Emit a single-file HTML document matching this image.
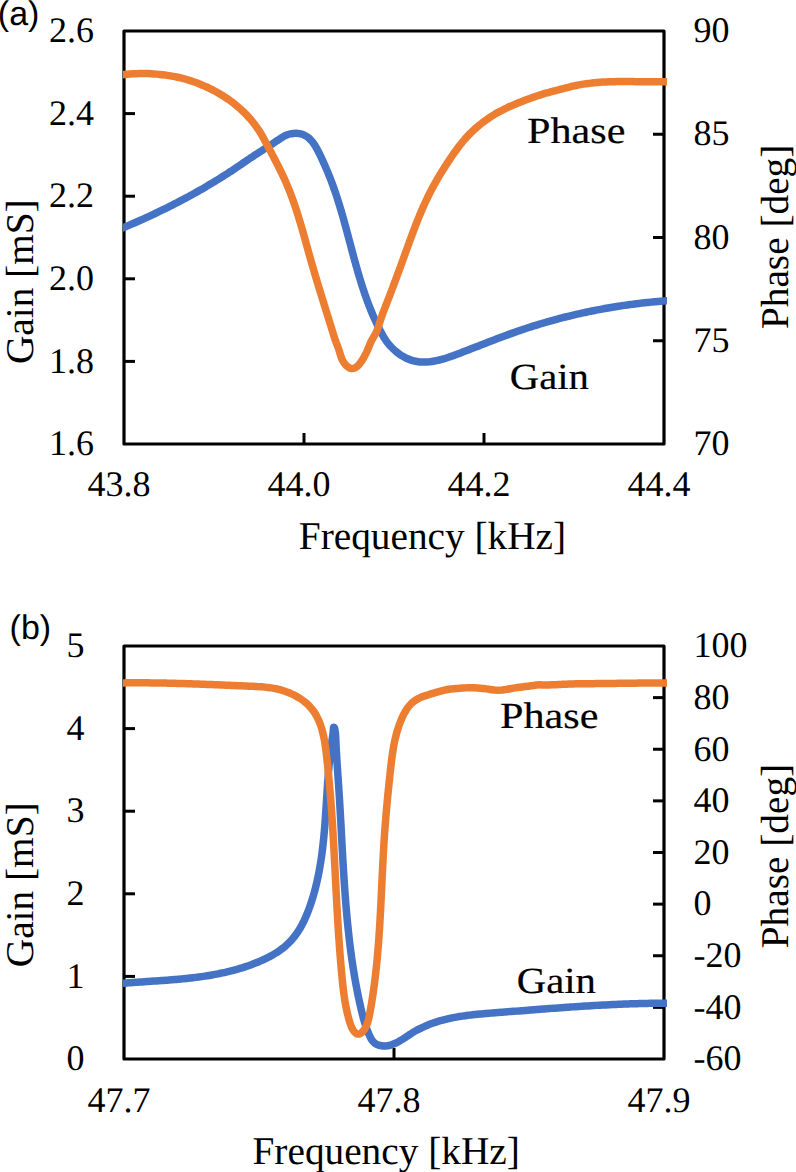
<!DOCTYPE html>
<html><head><meta charset="utf-8"><title>Gain and Phase vs Frequency</title>
<style>html,body{margin:0;padding:0;background:#fff;} body{width:796px;height:1172px;overflow:hidden;position:relative;} svg{position:absolute;left:0;top:0;} text{text-rendering:geometricPrecision;}</style>
</head><body>
<svg width="796" height="1172" viewBox="0 0 796 1172">
<defs><clipPath id="plotclip"><rect x="123" y="0" width="544" height="1172"/></clipPath></defs>
<path d="M124,31 L124,444 L664,444 L664,31 Z" fill="none" stroke="#000" stroke-width="3.2" stroke-linejoin="round"/>
<line x1="124" y1="113.6" x2="135" y2="113.6" stroke="#000" stroke-width="3"/>
<line x1="124" y1="196.2" x2="135" y2="196.2" stroke="#000" stroke-width="3"/>
<line x1="124" y1="278.8" x2="135" y2="278.8" stroke="#000" stroke-width="3"/>
<line x1="124" y1="361.4" x2="135" y2="361.4" stroke="#000" stroke-width="3"/>
<line x1="664" y1="134.25" x2="653" y2="134.25" stroke="#000" stroke-width="3"/>
<line x1="664" y1="237.5" x2="653" y2="237.5" stroke="#000" stroke-width="3"/>
<line x1="664" y1="340.75" x2="653" y2="340.75" stroke="#000" stroke-width="3"/>
<line x1="304" y1="444" x2="304" y2="433" stroke="#000" stroke-width="3"/>
<line x1="484" y1="444" x2="484" y2="433" stroke="#000" stroke-width="3"/>
<path d="M124,646 L124,1059 L664,1059 L664,646 Z" fill="none" stroke="#000" stroke-width="3.2" stroke-linejoin="round"/>
<line x1="124" y1="728.6" x2="135" y2="728.6" stroke="#000" stroke-width="3"/>
<line x1="124" y1="811.2" x2="135" y2="811.2" stroke="#000" stroke-width="3"/>
<line x1="124" y1="893.8" x2="135" y2="893.8" stroke="#000" stroke-width="3"/>
<line x1="124" y1="976.4" x2="135" y2="976.4" stroke="#000" stroke-width="3"/>
<line x1="664" y1="697.625" x2="653" y2="697.625" stroke="#000" stroke-width="3"/>
<line x1="664" y1="749.25" x2="653" y2="749.25" stroke="#000" stroke-width="3"/>
<line x1="664" y1="800.875" x2="653" y2="800.875" stroke="#000" stroke-width="3"/>
<line x1="664" y1="852.5" x2="653" y2="852.5" stroke="#000" stroke-width="3"/>
<line x1="664" y1="904.125" x2="653" y2="904.125" stroke="#000" stroke-width="3"/>
<line x1="664" y1="955.75" x2="653" y2="955.75" stroke="#000" stroke-width="3"/>
<line x1="664" y1="1007.375" x2="653" y2="1007.375" stroke="#000" stroke-width="3"/>
<line x1="394" y1="1059" x2="394" y2="1048" stroke="#000" stroke-width="3"/>
<path d="M115.00,231.16 C115.46,230.97 116.84,230.39 117.76,230.00 C118.69,229.61 119.61,229.22 120.53,228.83 C121.45,228.44 122.37,228.05 123.29,227.66 C124.21,227.28 125.14,226.89 126.06,226.50 C126.98,226.11 127.90,225.72 128.82,225.33 C129.74,224.94 130.66,224.55 131.58,224.15 C132.50,223.75 133.41,223.36 134.33,222.96 C135.25,222.56 136.16,222.16 137.08,221.75 C137.99,221.35 138.91,220.95 139.82,220.54 C140.74,220.13 141.65,219.72 142.56,219.31 C143.47,218.90 144.38,218.49 145.29,218.08 C146.20,217.66 147.11,217.25 148.02,216.83 C148.93,216.41 149.84,215.99 150.74,215.57 C151.65,215.15 152.56,214.72 153.46,214.30 C154.37,213.87 155.27,213.44 156.17,213.01 C157.08,212.58 157.98,212.15 158.88,211.72 C159.78,211.29 160.68,210.85 161.58,210.41 C162.48,209.98 163.38,209.54 164.27,209.10 C165.17,208.65 166.07,208.21 166.96,207.77 C167.86,207.32 168.75,206.87 169.65,206.42 C170.54,205.97 171.43,205.52 172.32,205.07 C173.22,204.62 174.11,204.16 175.00,203.71 C175.89,203.25 176.77,202.79 177.66,202.33 C178.55,201.87 179.43,201.40 180.32,200.94 C181.21,200.47 182.09,200.01 182.97,199.54 C183.86,199.07 184.74,198.60 185.62,198.12 C186.50,197.65 187.38,197.18 188.26,196.70 C189.14,196.22 190.01,195.74 190.89,195.26 C191.77,194.78 192.64,194.30 193.52,193.81 C194.39,193.32 195.26,192.84 196.14,192.35 C197.01,191.86 197.88,191.37 198.75,190.87 C199.62,190.38 200.49,189.88 201.35,189.38 C202.22,188.88 203.09,188.38 203.95,187.88 C204.82,187.38 205.68,186.88 206.54,186.37 C207.40,185.86 208.26,185.35 209.12,184.84 C209.98,184.33 210.84,183.82 211.70,183.30 C212.56,182.79 213.41,182.27 214.27,181.75 C215.12,181.23 215.97,180.71 216.82,180.18 C217.68,179.66 218.53,179.13 219.38,178.60 C220.22,178.08 221.07,177.55 221.92,177.01 C222.76,176.48 223.61,175.94 224.45,175.41 C225.29,174.87 226.14,174.33 226.98,173.79 C227.82,173.24 228.66,172.70 229.49,172.15 C230.33,171.61 231.17,171.06 232.00,170.51 C232.84,169.96 233.67,169.40 234.50,168.85 C235.33,168.29 236.16,167.73 236.99,167.18 C237.82,166.62 238.65,166.06 239.48,165.50 C240.30,164.93 241.13,164.37 241.96,163.81 C242.79,163.25 243.61,162.69 244.44,162.12 C245.27,161.56 246.10,161.00 246.92,160.44 C247.75,159.88 248.58,159.32 249.41,158.76 C250.24,158.20 251.07,157.65 251.90,157.09 C252.73,156.54 253.57,155.98 254.40,155.43 C255.24,154.88 256.07,154.33 256.91,153.79 C257.75,153.24 258.59,152.70 259.43,152.16 C260.27,151.61 261.11,151.07 261.95,150.53 C262.79,149.99 263.63,149.45 264.48,148.91 C265.32,148.37 266.16,147.83 267.00,147.29 C267.84,146.75 268.68,146.21 269.52,145.67 C270.36,145.13 271.20,144.58 272.04,144.04 C272.88,143.49 273.72,142.94 274.55,142.39 C275.38,141.84 276.21,141.28 277.05,140.73 C277.88,140.17 278.70,139.60 279.53,139.05 C280.37,138.50 281.19,137.94 282.05,137.42 C282.91,136.90 283.77,136.39 284.66,135.95 C285.56,135.51 286.48,135.10 287.42,134.77 C288.36,134.43 289.32,134.15 290.30,133.94 C291.27,133.72 292.26,133.56 293.26,133.47 C294.25,133.37 295.26,133.33 296.25,133.36 C297.25,133.38 298.25,133.47 299.24,133.62 C300.22,133.78 301.21,134.00 302.15,134.31 C303.10,134.61 304.03,135.00 304.92,135.46 C305.81,135.91 306.66,136.45 307.47,137.03 C308.27,137.62 309.04,138.27 309.76,138.96 C310.48,139.65 311.16,140.39 311.81,141.15 C312.45,141.91 313.06,142.71 313.64,143.53 C314.22,144.34 314.76,145.18 315.29,146.03 C315.82,146.88 316.31,147.75 316.80,148.62 C317.29,149.49 317.75,150.38 318.21,151.27 C318.67,152.16 319.11,153.06 319.55,153.95 C319.99,154.85 320.42,155.75 320.85,156.66 C321.28,157.56 321.70,158.47 322.12,159.37 C322.54,160.28 322.96,161.19 323.37,162.10 C323.79,163.01 324.20,163.92 324.60,164.84 C325.00,165.75 325.41,166.67 325.80,167.59 C326.20,168.50 326.59,169.42 326.98,170.35 C327.37,171.27 327.75,172.19 328.13,173.12 C328.51,174.04 328.88,174.97 329.25,175.90 C329.62,176.83 329.99,177.76 330.35,178.69 C330.72,179.62 331.07,180.56 331.43,181.49 C331.78,182.43 332.13,183.36 332.48,184.30 C332.82,185.24 333.16,186.18 333.50,187.12 C333.84,188.06 334.17,189.00 334.50,189.95 C334.83,190.89 335.15,191.84 335.48,192.79 C335.80,193.73 336.11,194.68 336.43,195.63 C336.74,196.58 337.05,197.53 337.36,198.48 C337.67,199.43 337.97,200.39 338.27,201.34 C338.57,202.29 338.87,203.25 339.16,204.21 C339.46,205.16 339.75,206.12 340.04,207.08 C340.33,208.03 340.61,208.99 340.90,209.95 C341.18,210.91 341.46,211.87 341.74,212.83 C342.02,213.79 342.30,214.75 342.57,215.71 C342.85,216.67 343.12,217.64 343.39,218.60 C343.66,219.56 343.93,220.52 344.20,221.49 C344.46,222.45 344.73,223.41 345.00,224.38 C345.26,225.34 345.52,226.31 345.79,227.27 C346.05,228.24 346.31,229.20 346.57,230.17 C346.83,231.13 347.09,232.10 347.35,233.07 C347.61,234.03 347.86,235.00 348.12,235.96 C348.38,236.93 348.64,237.90 348.89,238.86 C349.15,239.83 349.41,240.80 349.66,241.76 C349.92,242.73 350.18,243.70 350.43,244.66 C350.69,245.63 350.94,246.60 351.20,247.56 C351.46,248.53 351.72,249.50 351.97,250.46 C352.23,251.43 352.49,252.39 352.75,253.36 C353.01,254.32 353.27,255.29 353.53,256.26 C353.79,257.22 354.05,258.19 354.32,259.15 C354.58,260.12 354.85,261.08 355.11,262.04 C355.38,263.01 355.65,263.97 355.91,264.93 C356.18,265.90 356.45,266.86 356.73,267.82 C357.00,268.78 357.27,269.75 357.55,270.71 C357.83,271.67 358.11,272.63 358.39,273.59 C358.67,274.55 358.95,275.51 359.24,276.47 C359.52,277.42 359.81,278.38 360.10,279.34 C360.39,280.29 360.69,281.25 360.98,282.21 C361.28,283.16 361.58,284.11 361.88,285.07 C362.19,286.02 362.49,286.97 362.80,287.92 C363.11,288.87 363.42,289.82 363.74,290.77 C364.06,291.72 364.38,292.67 364.70,293.62 C365.02,294.56 365.35,295.51 365.68,296.45 C366.02,297.39 366.35,298.33 366.69,299.28 C367.03,300.22 367.38,301.15 367.72,302.09 C368.07,303.03 368.43,303.96 368.78,304.90 C369.14,305.83 369.50,306.76 369.87,307.69 C370.24,308.62 370.61,309.55 370.99,310.48 C371.37,311.40 371.75,312.33 372.14,313.25 C372.52,314.17 372.92,315.09 373.32,316.01 C373.71,316.93 374.12,317.84 374.53,318.75 C374.94,319.67 375.35,320.58 375.77,321.48 C376.19,322.39 376.62,323.29 377.05,324.20 C377.48,325.10 377.92,326.00 378.36,326.90 C378.80,327.79 379.25,328.69 379.70,329.58 C380.16,330.47 380.61,331.36 381.08,332.24 C381.55,333.13 382.01,334.01 382.50,334.89 C382.98,335.76 383.47,336.64 383.99,337.49 C384.51,338.35 385.05,339.19 385.61,340.01 C386.17,340.84 386.75,341.66 387.36,342.45 C387.96,343.25 388.60,344.02 389.24,344.79 C389.89,345.55 390.55,346.30 391.24,347.02 C391.93,347.75 392.64,348.45 393.36,349.14 C394.09,349.83 394.83,350.50 395.59,351.15 C396.35,351.80 397.14,352.42 397.93,353.02 C398.73,353.63 399.54,354.21 400.37,354.77 C401.20,355.32 402.06,355.85 402.92,356.35 C403.78,356.86 404.66,357.34 405.55,357.79 C406.45,358.23 407.36,358.64 408.28,359.03 C409.21,359.41 410.14,359.78 411.09,360.09 C412.04,360.41 413.00,360.69 413.97,360.93 C414.94,361.17 415.92,361.39 416.90,361.56 C417.89,361.72 418.88,361.84 419.88,361.94 C420.87,362.03 421.87,362.09 422.87,362.11 C423.87,362.14 424.87,362.12 425.87,362.08 C426.87,362.04 427.87,361.98 428.86,361.88 C429.86,361.79 430.85,361.66 431.84,361.51 C432.83,361.37 433.81,361.20 434.80,361.02 C435.78,360.83 436.76,360.62 437.73,360.40 C438.71,360.17 439.68,359.93 440.64,359.68 C441.61,359.43 442.57,359.15 443.53,358.87 C444.49,358.59 445.45,358.30 446.40,357.99 C447.36,357.69 448.30,357.38 449.25,357.06 C450.20,356.73 451.14,356.41 452.09,356.07 C453.03,355.74 453.97,355.39 454.91,355.05 C455.84,354.70 456.78,354.35 457.72,354.00 C458.65,353.65 459.59,353.29 460.52,352.94 C461.46,352.58 462.39,352.22 463.32,351.86 C464.26,351.50 465.19,351.14 466.12,350.78 C467.06,350.42 467.99,350.06 468.92,349.70 C469.85,349.34 470.78,348.98 471.72,348.61 C472.65,348.25 473.58,347.89 474.51,347.53 C475.44,347.16 476.38,346.80 477.31,346.44 C478.24,346.07 479.17,345.71 480.10,345.34 C481.03,344.98 481.96,344.62 482.90,344.25 C483.83,343.89 484.76,343.53 485.69,343.17 C486.62,342.80 487.56,342.44 488.49,342.08 C489.42,341.72 490.35,341.36 491.29,341.00 C492.22,340.64 493.15,340.28 494.09,339.92 C495.02,339.56 495.95,339.20 496.89,338.85 C497.82,338.49 498.76,338.14 499.69,337.78 C500.63,337.43 501.56,337.08 502.50,336.73 C503.44,336.38 504.38,336.03 505.31,335.68 C506.25,335.33 507.19,334.99 508.13,334.64 C509.07,334.30 510.01,333.96 510.95,333.62 C511.89,333.28 512.83,332.94 513.77,332.61 C514.71,332.27 515.66,331.94 516.60,331.61 C517.55,331.28 518.49,330.95 519.44,330.63 C520.38,330.30 521.33,329.98 522.28,329.66 C523.22,329.34 524.17,329.02 525.12,328.71 C526.07,328.39 527.02,328.08 527.97,327.77 C528.92,327.46 529.87,327.15 530.83,326.85 C531.78,326.55 532.73,326.24 533.69,325.95 C534.64,325.65 535.60,325.35 536.55,325.06 C537.51,324.76 538.46,324.47 539.42,324.18 C540.38,323.89 541.34,323.61 542.30,323.32 C543.25,323.04 544.21,322.76 545.17,322.48 C546.13,322.20 547.10,321.92 548.06,321.65 C549.02,321.38 549.98,321.11 550.95,320.84 C551.91,320.57 552.87,320.30 553.84,320.04 C554.80,319.78 555.77,319.52 556.73,319.26 C557.70,319.00 558.67,318.74 559.63,318.49 C560.60,318.24 561.57,317.99 562.54,317.74 C563.51,317.49 564.48,317.24 565.45,317.00 C566.42,316.76 567.39,316.52 568.36,316.28 C569.33,316.04 570.30,315.80 571.27,315.57 C572.25,315.34 573.22,315.11 574.19,314.88 C575.17,314.65 576.14,314.42 577.11,314.20 C578.09,313.98 579.06,313.76 580.04,313.54 C581.02,313.32 581.99,313.10 582.97,312.89 C583.95,312.68 584.92,312.47 585.90,312.26 C586.88,312.05 587.86,311.84 588.84,311.64 C589.82,311.44 590.80,311.24 591.78,311.04 C592.76,310.84 593.74,310.64 594.72,310.45 C595.70,310.25 596.68,310.06 597.66,309.88 C598.65,309.69 599.63,309.50 600.61,309.32 C601.59,309.13 602.58,308.95 603.56,308.77 C604.55,308.59 605.53,308.42 606.51,308.24 C607.50,308.07 608.48,307.90 609.47,307.73 C610.46,307.56 611.44,307.40 612.43,307.23 C613.41,307.07 614.40,306.91 615.39,306.75 C616.38,306.59 617.36,306.43 618.35,306.28 C619.34,306.13 620.33,305.98 621.32,305.83 C622.31,305.68 623.30,305.53 624.29,305.39 C625.28,305.24 626.27,305.10 627.26,304.96 C628.25,304.83 629.24,304.69 630.23,304.55 C631.22,304.42 632.21,304.29 633.20,304.16 C634.19,304.03 635.19,303.91 636.18,303.78 C637.17,303.66 638.16,303.54 639.16,303.42 C640.15,303.30 641.14,303.19 642.14,303.07 C643.13,302.96 644.12,302.85 645.12,302.74 C646.11,302.63 647.11,302.53 648.10,302.42 C649.10,302.32 650.09,302.22 651.09,302.12 C652.08,302.02 653.08,301.93 654.07,301.83 C655.07,301.74 656.06,301.65 657.06,301.56 C658.06,301.48 659.05,301.39 660.05,301.31 C661.05,301.23 662.04,301.15 663.04,301.07 C664.04,300.99 665.03,300.91 666.03,300.83 C667.03,300.75 668.02,300.67 669.02,300.59 C670.02,300.51 671.01,300.43 672.01,300.35 C673.01,300.26 674.50,300.14 675.00,300.10" fill="none" stroke="#4472C4" stroke-width="7.5" stroke-linejoin="round" stroke-linecap="butt" clip-path="url(#plotclip)"/>
<path d="M115.00,75.35 C115.50,75.30 117.00,75.17 117.99,75.08 C118.99,74.99 119.99,74.90 120.99,74.81 C121.98,74.72 122.98,74.63 123.98,74.54 C124.98,74.45 125.97,74.34 126.97,74.25 C127.97,74.16 128.97,74.08 129.97,74.00 C130.97,73.93 131.97,73.87 132.97,73.81 C133.97,73.76 134.97,73.71 135.97,73.67 C136.97,73.63 137.97,73.60 138.97,73.57 C139.97,73.55 140.98,73.54 141.98,73.53 C142.98,73.52 143.98,73.53 144.98,73.54 C145.99,73.55 146.99,73.57 147.99,73.60 C148.99,73.63 149.99,73.67 150.99,73.72 C151.99,73.77 152.99,73.82 153.99,73.89 C154.99,73.96 155.99,74.03 156.99,74.12 C157.99,74.20 158.99,74.29 159.98,74.40 C160.98,74.50 161.97,74.61 162.97,74.74 C163.96,74.86 164.96,74.99 165.95,75.13 C166.94,75.27 167.93,75.42 168.92,75.58 C169.91,75.74 170.90,75.91 171.88,76.09 C172.87,76.27 173.85,76.46 174.83,76.66 C175.81,76.86 176.79,77.07 177.77,77.28 C178.75,77.50 179.73,77.73 180.70,77.97 C181.67,78.21 182.64,78.46 183.61,78.71 C184.58,78.97 185.54,79.24 186.51,79.52 C187.47,79.80 188.43,80.08 189.39,80.38 C190.34,80.68 191.30,80.99 192.25,81.30 C193.20,81.62 194.14,81.95 195.09,82.28 C196.03,82.62 196.97,82.97 197.91,83.32 C198.84,83.68 199.78,84.05 200.70,84.42 C201.63,84.80 202.56,85.18 203.48,85.58 C204.40,85.98 205.32,86.38 206.23,86.79 C207.14,87.21 208.05,87.63 208.95,88.07 C209.85,88.50 210.75,88.94 211.65,89.40 C212.54,89.85 213.43,90.31 214.31,90.78 C215.20,91.25 216.08,91.73 216.95,92.22 C217.82,92.71 218.69,93.22 219.55,93.72 C220.42,94.23 221.27,94.75 222.13,95.28 C222.98,95.81 223.82,96.35 224.66,96.89 C225.50,97.44 226.34,97.99 227.16,98.56 C227.99,99.12 228.81,99.70 229.62,100.28 C230.44,100.87 231.25,101.46 232.05,102.06 C232.85,102.67 233.64,103.28 234.42,103.90 C235.21,104.52 235.99,105.15 236.76,105.79 C237.53,106.43 238.29,107.08 239.05,107.74 C239.80,108.40 240.55,109.07 241.29,109.75 C242.02,110.43 242.75,111.11 243.47,111.81 C244.19,112.51 244.90,113.21 245.61,113.93 C246.31,114.64 247.00,115.37 247.68,116.10 C248.37,116.83 249.04,117.58 249.70,118.33 C250.36,119.08 251.01,119.84 251.65,120.61 C252.30,121.38 252.93,122.16 253.54,122.95 C254.16,123.74 254.77,124.53 255.36,125.34 C255.96,126.14 256.54,126.96 257.11,127.78 C257.68,128.61 258.24,129.44 258.79,130.28 C259.34,131.12 259.87,131.96 260.40,132.82 C260.92,133.67 261.44,134.53 261.94,135.40 C262.44,136.26 262.94,137.13 263.42,138.01 C263.91,138.89 264.38,139.77 264.85,140.65 C265.33,141.54 265.79,142.42 266.26,143.31 C266.73,144.19 267.19,145.08 267.66,145.97 C268.13,146.85 268.60,147.74 269.07,148.62 C269.54,149.51 270.02,150.39 270.49,151.27 C270.96,152.16 271.43,153.04 271.90,153.93 C272.37,154.81 272.83,155.70 273.30,156.59 C273.77,157.47 274.23,158.36 274.69,159.25 C275.16,160.14 275.62,161.03 276.08,161.92 C276.53,162.81 276.99,163.70 277.45,164.59 C277.90,165.49 278.35,166.38 278.80,167.27 C279.25,168.17 279.70,169.07 280.15,169.96 C280.59,170.86 281.03,171.76 281.47,172.66 C281.91,173.56 282.34,174.47 282.77,175.37 C283.20,176.28 283.63,177.18 284.04,178.09 C284.46,179.00 284.87,179.92 285.28,180.83 C285.69,181.75 286.09,182.67 286.48,183.59 C286.88,184.51 287.27,185.43 287.65,186.36 C288.03,187.28 288.41,188.21 288.79,189.14 C289.16,190.07 289.53,191.00 289.89,191.93 C290.26,192.87 290.62,193.80 290.97,194.74 C291.32,195.68 291.67,196.62 292.02,197.56 C292.36,198.50 292.70,199.44 293.04,200.38 C293.38,201.33 293.71,202.27 294.04,203.22 C294.36,204.17 294.69,205.11 295.01,206.06 C295.33,207.01 295.64,207.96 295.96,208.92 C296.27,209.87 296.58,210.82 296.89,211.77 C297.19,212.73 297.49,213.68 297.80,214.64 C298.10,215.59 298.39,216.55 298.69,217.51 C298.98,218.47 299.27,219.43 299.56,220.38 C299.85,221.34 300.14,222.30 300.42,223.26 C300.71,224.22 300.99,225.19 301.27,226.15 C301.55,227.11 301.83,228.07 302.11,229.03 C302.39,230.00 302.66,230.96 302.94,231.92 C303.21,232.89 303.48,233.85 303.75,234.82 C304.03,235.78 304.30,236.74 304.57,237.71 C304.84,238.67 305.11,239.64 305.38,240.60 C305.64,241.57 305.91,242.53 306.18,243.50 C306.45,244.47 306.72,245.43 306.98,246.40 C307.25,247.36 307.52,248.33 307.79,249.29 C308.05,250.26 308.32,251.22 308.59,252.19 C308.86,253.15 309.13,254.12 309.40,255.08 C309.67,256.05 309.94,257.01 310.21,257.98 C310.49,258.94 310.76,259.90 311.03,260.87 C311.31,261.83 311.58,262.79 311.86,263.76 C312.14,264.72 312.42,265.68 312.70,266.64 C312.98,267.61 313.26,268.57 313.54,269.53 C313.82,270.49 314.10,271.45 314.39,272.41 C314.67,273.37 314.96,274.33 315.24,275.29 C315.53,276.25 315.82,277.21 316.10,278.17 C316.39,279.13 316.68,280.09 316.97,281.05 C317.26,282.01 317.55,282.97 317.84,283.93 C318.13,284.89 318.42,285.85 318.71,286.80 C319.01,287.76 319.30,288.72 319.59,289.68 C319.88,290.64 320.18,291.59 320.47,292.55 C320.77,293.51 321.06,294.47 321.36,295.43 C321.65,296.38 321.95,297.34 322.24,298.30 C322.54,299.25 322.84,300.21 323.13,301.17 C323.43,302.13 323.73,303.08 324.02,304.04 C324.32,305.00 324.62,305.95 324.91,306.91 C325.21,307.87 325.51,308.82 325.81,309.78 C326.10,310.74 326.40,311.69 326.70,312.65 C327.00,313.61 327.29,314.56 327.59,315.52 C327.89,316.48 328.18,317.43 328.48,318.39 C328.78,319.35 329.07,320.30 329.37,321.26 C329.67,322.22 329.96,323.17 330.26,324.13 C330.56,325.09 330.85,326.05 331.15,327.00 C331.44,327.96 331.74,328.92 332.03,329.88 C332.32,330.83 332.62,331.79 332.91,332.75 C333.21,333.71 333.49,334.67 333.79,335.62 C334.09,336.58 334.39,337.54 334.71,338.49 C335.03,339.44 335.36,340.38 335.70,341.32 C336.04,342.26 336.41,343.20 336.76,344.13 C337.12,345.07 337.49,346.00 337.84,346.94 C338.18,347.88 338.53,348.82 338.85,349.77 C339.17,350.72 339.46,351.68 339.76,352.64 C340.06,353.59 340.33,354.56 340.64,355.51 C340.96,356.46 341.28,357.41 341.65,358.34 C342.03,359.27 342.43,360.19 342.90,361.07 C343.38,361.95 343.92,362.80 344.52,363.60 C345.12,364.39 345.78,365.17 346.51,365.84 C347.24,366.51 348.05,367.17 348.91,367.63 C349.78,368.09 350.76,368.52 351.72,368.60 C352.67,368.68 353.73,368.47 354.63,368.12 C355.54,367.76 356.37,367.12 357.13,366.48 C357.89,365.85 358.56,365.07 359.20,364.31 C359.85,363.55 360.44,362.73 361.01,361.91 C361.59,361.09 362.13,360.25 362.66,359.40 C363.19,358.55 363.70,357.69 364.19,356.82 C364.68,355.94 365.16,355.06 365.61,354.16 C366.06,353.27 366.49,352.36 366.90,351.45 C367.32,350.54 367.71,349.62 368.10,348.69 C368.48,347.77 368.85,346.84 369.24,345.91 C369.63,344.99 370.00,344.06 370.41,343.15 C370.82,342.23 371.24,341.32 371.69,340.43 C372.14,339.53 372.63,338.66 373.13,337.79 C373.62,336.91 374.15,336.07 374.65,335.20 C375.14,334.32 375.65,333.46 376.09,332.56 C376.53,331.66 376.92,330.73 377.28,329.80 C377.65,328.87 377.96,327.92 378.28,326.97 C378.59,326.02 378.87,325.05 379.17,324.10 C379.47,323.14 379.76,322.18 380.07,321.23 C380.38,320.28 380.70,319.33 381.02,318.38 C381.35,317.43 381.68,316.49 382.02,315.54 C382.36,314.60 382.70,313.66 383.05,312.72 C383.40,311.78 383.75,310.84 384.11,309.91 C384.47,308.97 384.83,308.04 385.19,307.10 C385.55,306.17 385.92,305.24 386.28,304.30 C386.65,303.37 387.02,302.44 387.38,301.50 C387.75,300.57 388.11,299.64 388.47,298.71 C388.84,297.77 389.20,296.84 389.56,295.90 C389.92,294.97 390.28,294.03 390.64,293.10 C390.99,292.16 391.35,291.22 391.70,290.29 C392.06,289.35 392.41,288.41 392.77,287.48 C393.12,286.54 393.47,285.60 393.82,284.66 C394.17,283.72 394.52,282.78 394.87,281.85 C395.22,280.91 395.57,279.97 395.92,279.03 C396.27,278.09 396.61,277.15 396.96,276.21 C397.31,275.27 397.65,274.33 398.00,273.39 C398.34,272.45 398.69,271.51 399.03,270.56 C399.37,269.62 399.72,268.68 400.06,267.74 C400.40,266.80 400.74,265.86 401.09,264.92 C401.43,263.97 401.77,263.03 402.11,262.09 C402.45,261.15 402.80,260.21 403.14,259.27 C403.48,258.32 403.82,257.38 404.16,256.44 C404.50,255.50 404.84,254.56 405.19,253.61 C405.53,252.67 405.87,251.73 406.21,250.79 C406.55,249.85 406.89,248.91 407.24,247.96 C407.58,247.02 407.92,246.08 408.26,245.14 C408.61,244.20 408.95,243.26 409.29,242.32 C409.64,241.37 409.98,240.43 410.33,239.49 C410.67,238.55 411.02,237.61 411.37,236.67 C411.71,235.73 412.06,234.79 412.41,233.86 C412.76,232.92 413.11,231.98 413.47,231.04 C413.82,230.10 414.17,229.17 414.53,228.23 C414.89,227.29 415.25,226.36 415.61,225.42 C415.97,224.49 416.33,223.56 416.70,222.62 C417.07,221.69 417.43,220.76 417.80,219.83 C418.18,218.90 418.55,217.97 418.93,217.04 C419.31,216.11 419.69,215.19 420.07,214.26 C420.46,213.34 420.85,212.41 421.24,211.49 C421.63,210.57 422.02,209.65 422.42,208.73 C422.82,207.81 423.23,206.89 423.63,205.98 C424.04,205.06 424.45,204.15 424.87,203.24 C425.29,202.33 425.71,201.42 426.14,200.51 C426.56,199.61 426.99,198.70 427.43,197.80 C427.86,196.90 428.31,196.00 428.75,195.10 C429.20,194.20 429.65,193.31 430.11,192.42 C430.56,191.53 431.03,190.64 431.49,189.75 C431.96,188.87 432.43,187.98 432.91,187.10 C433.39,186.22 433.87,185.34 434.35,184.46 C434.84,183.59 435.33,182.71 435.82,181.84 C436.32,180.97 436.82,180.10 437.32,179.24 C437.82,178.37 438.33,177.51 438.84,176.65 C439.35,175.78 439.87,174.92 440.39,174.07 C440.91,173.21 441.43,172.36 441.96,171.50 C442.48,170.65 443.01,169.80 443.55,168.95 C444.08,168.11 444.62,167.26 445.16,166.42 C445.70,165.57 446.24,164.73 446.79,163.89 C447.33,163.05 447.88,162.21 448.44,161.38 C448.99,160.54 449.54,159.71 450.10,158.88 C450.66,158.04 451.22,157.21 451.79,156.39 C452.35,155.56 452.92,154.74 453.50,153.92 C454.07,153.09 454.65,152.28 455.23,151.46 C455.82,150.65 456.41,149.84 457.00,149.03 C457.60,148.23 458.20,147.42 458.81,146.63 C459.41,145.83 460.03,145.04 460.65,144.26 C461.27,143.47 461.90,142.69 462.54,141.92 C463.18,141.14 463.82,140.38 464.48,139.62 C465.13,138.86 465.79,138.11 466.47,137.37 C467.14,136.62 467.82,135.89 468.51,135.16 C469.20,134.44 469.90,133.72 470.61,133.01 C471.32,132.30 472.04,131.61 472.77,130.92 C473.49,130.23 474.23,129.55 474.97,128.88 C475.72,128.21 476.47,127.55 477.23,126.90 C478.00,126.25 478.76,125.60 479.54,124.97 C480.32,124.34 481.10,123.72 481.90,123.10 C482.69,122.49 483.49,121.89 484.29,121.29 C485.10,120.70 485.91,120.11 486.73,119.54 C487.55,118.96 488.38,118.40 489.21,117.84 C490.05,117.28 490.89,116.74 491.73,116.20 C492.58,115.66 493.43,115.13 494.29,114.62 C495.14,114.10 496.01,113.59 496.88,113.09 C497.74,112.59 498.62,112.10 499.50,111.62 C500.38,111.14 501.26,110.67 502.15,110.21 C503.04,109.75 503.94,109.30 504.84,108.86 C505.73,108.42 506.64,107.98 507.54,107.56 C508.45,107.13 509.36,106.71 510.28,106.30 C511.19,105.89 512.11,105.49 513.03,105.09 C513.94,104.69 514.87,104.30 515.79,103.92 C516.72,103.53 517.65,103.15 518.57,102.78 C519.50,102.40 520.44,102.04 521.37,101.67 C522.30,101.31 523.24,100.95 524.17,100.59 C525.11,100.23 526.05,99.88 526.99,99.53 C527.93,99.18 528.87,98.84 529.81,98.49 C530.75,98.15 531.69,97.81 532.63,97.47 C533.58,97.13 534.52,96.80 535.47,96.47 C536.41,96.14 537.36,95.81 538.31,95.50 C539.26,95.18 540.21,94.87 541.17,94.57 C542.13,94.27 543.09,93.98 544.05,93.70 C545.01,93.42 545.98,93.16 546.94,92.89 C547.91,92.63 548.88,92.38 549.85,92.12 C550.82,91.86 551.78,91.61 552.75,91.35 C553.72,91.09 554.69,90.83 555.66,90.57 C556.62,90.31 557.59,90.05 558.56,89.79 C559.53,89.54 560.49,89.28 561.46,89.02 C562.43,88.77 563.40,88.51 564.37,88.26 C565.34,88.01 566.31,87.77 567.29,87.53 C568.26,87.29 569.23,87.05 570.21,86.82 C571.18,86.58 572.16,86.36 573.13,86.14 C574.11,85.92 575.09,85.71 576.07,85.50 C577.05,85.30 578.03,85.10 579.02,84.92 C580.00,84.73 580.99,84.55 581.98,84.38 C582.96,84.21 583.95,84.06 584.94,83.91 C585.93,83.76 586.93,83.62 587.92,83.48 C588.91,83.35 589.91,83.23 590.90,83.12 C591.90,83.00 592.89,82.89 593.89,82.79 C594.89,82.69 595.89,82.60 596.88,82.52 C597.88,82.43 598.88,82.35 599.88,82.28 C600.88,82.21 601.88,82.14 602.88,82.09 C603.88,82.03 604.88,81.97 605.88,81.92 C606.88,81.88 607.88,81.84 608.88,81.80 C609.88,81.76 610.89,81.73 611.89,81.70 C612.89,81.67 613.89,81.65 614.89,81.63 C615.89,81.61 616.90,81.59 617.90,81.58 C618.90,81.57 619.90,81.56 620.90,81.56 C621.90,81.55 622.91,81.55 623.91,81.55 C624.91,81.55 625.91,81.55 626.91,81.55 C627.92,81.56 628.92,81.56 629.92,81.57 C630.92,81.58 631.92,81.59 632.92,81.60 C633.93,81.61 634.93,81.62 635.93,81.63 C636.93,81.64 637.93,81.65 638.94,81.67 C639.94,81.68 640.94,81.69 641.94,81.70 C642.94,81.71 643.94,81.73 644.95,81.74 C645.95,81.75 646.95,81.76 647.95,81.76 C648.95,81.77 649.96,81.78 650.96,81.78 C651.96,81.79 652.96,81.79 653.96,81.79 C654.96,81.79 655.97,81.79 656.97,81.78 C657.97,81.78 658.97,81.77 659.97,81.76 C660.98,81.75 661.98,81.73 662.98,81.71 C663.98,81.69 664.98,81.68 665.98,81.66 C666.99,81.65 667.99,81.63 668.99,81.62 C669.99,81.60 670.99,81.59 671.99,81.58 C673.00,81.56 674.50,81.54 675.00,81.53" fill="none" stroke="#ED7D31" stroke-width="7.5" stroke-linejoin="round" stroke-linecap="butt" clip-path="url(#plotclip)"/>
<path d="M115.00,983.92 C115.50,983.88 117.00,983.76 117.99,983.68 C118.99,983.60 119.99,983.53 120.99,983.45 C121.99,983.37 122.98,983.29 123.98,983.21 C124.98,983.13 125.98,983.05 126.97,982.97 C127.97,982.89 128.97,982.82 129.97,982.74 C130.97,982.67 131.97,982.59 132.96,982.52 C133.96,982.45 134.96,982.38 135.96,982.31 C136.96,982.23 137.96,982.17 138.95,982.10 C139.95,982.03 140.95,981.96 141.95,981.89 C142.95,981.83 143.95,981.76 144.95,981.69 C145.95,981.63 146.94,981.56 147.94,981.49 C148.94,981.43 149.94,981.36 150.94,981.29 C151.94,981.23 152.94,981.16 153.94,981.09 C154.93,981.03 155.93,980.96 156.93,980.89 C157.93,980.82 158.93,980.76 159.93,980.69 C160.93,980.62 161.92,980.55 162.92,980.47 C163.92,980.40 164.92,980.33 165.92,980.26 C166.92,980.18 167.91,980.11 168.91,980.03 C169.91,979.95 170.91,979.87 171.91,979.79 C172.90,979.71 173.90,979.63 174.90,979.55 C175.90,979.46 176.89,979.38 177.89,979.29 C178.89,979.20 179.88,979.11 180.88,979.01 C181.88,978.92 182.87,978.82 183.87,978.72 C184.87,978.63 185.86,978.52 186.86,978.42 C187.85,978.31 188.85,978.21 189.84,978.10 C190.84,977.98 191.83,977.87 192.83,977.75 C193.82,977.63 194.81,977.51 195.81,977.39 C196.80,977.26 197.79,977.13 198.79,977.00 C199.78,976.87 200.77,976.73 201.76,976.59 C202.75,976.45 203.74,976.30 204.73,976.16 C205.72,976.01 206.71,975.85 207.70,975.69 C208.69,975.54 209.67,975.37 210.66,975.20 C211.65,975.03 212.63,974.86 213.62,974.68 C214.60,974.51 215.59,974.32 216.57,974.13 C217.55,973.94 218.54,973.75 219.52,973.55 C220.50,973.35 221.48,973.14 222.46,972.93 C223.43,972.72 224.41,972.51 225.39,972.28 C226.36,972.06 227.34,971.83 228.31,971.60 C229.28,971.36 230.26,971.12 231.23,970.87 C232.19,970.62 233.16,970.37 234.13,970.11 C235.10,969.85 236.06,969.58 237.02,969.31 C237.99,969.03 238.95,968.75 239.91,968.46 C240.86,968.18 241.82,967.88 242.78,967.58 C243.73,967.28 244.68,966.97 245.63,966.65 C246.58,966.34 247.53,966.01 248.47,965.68 C249.42,965.35 250.36,965.01 251.30,964.67 C252.24,964.32 253.18,963.97 254.11,963.61 C255.04,963.25 255.97,962.88 256.90,962.50 C257.83,962.12 258.75,961.74 259.67,961.35 C260.59,960.95 261.51,960.55 262.42,960.14 C263.33,959.73 264.24,959.31 265.15,958.87 C266.05,958.44 266.95,958.00 267.84,957.54 C268.73,957.09 269.62,956.63 270.50,956.15 C271.38,955.67 272.25,955.18 273.12,954.68 C273.98,954.18 274.84,953.66 275.69,953.14 C276.54,952.61 277.38,952.06 278.21,951.51 C279.05,950.95 279.87,950.38 280.68,949.79 C281.49,949.21 282.29,948.61 283.08,947.99 C283.87,947.37 284.64,946.74 285.40,946.09 C286.16,945.44 286.91,944.77 287.64,944.09 C288.37,943.40 289.09,942.70 289.79,941.98 C290.48,941.27 291.16,940.53 291.82,939.78 C292.49,939.03 293.13,938.26 293.76,937.48 C294.38,936.70 294.99,935.91 295.59,935.10 C296.18,934.29 296.75,933.47 297.31,932.64 C297.87,931.81 298.42,930.97 298.94,930.12 C299.47,929.27 299.98,928.41 300.48,927.54 C300.98,926.68 301.46,925.80 301.93,924.92 C302.41,924.03 302.86,923.14 303.31,922.25 C303.75,921.35 304.18,920.44 304.60,919.54 C305.02,918.63 305.43,917.71 305.83,916.80 C306.23,915.88 306.62,914.96 307.00,914.03 C307.38,913.10 307.74,912.17 308.10,911.24 C308.46,910.30 308.82,909.37 309.16,908.43 C309.50,907.49 309.84,906.54 310.17,905.60 C310.50,904.65 310.82,903.70 311.13,902.75 C311.45,901.80 311.76,900.85 312.06,899.90 C312.36,898.94 312.65,897.99 312.94,897.03 C313.23,896.07 313.51,895.11 313.78,894.14 C314.06,893.18 314.33,892.22 314.59,891.25 C314.85,890.29 315.11,889.32 315.36,888.35 C315.61,887.38 315.85,886.41 316.09,885.44 C316.32,884.46 316.55,883.49 316.78,882.51 C317.01,881.54 317.23,880.56 317.44,879.58 C317.65,878.61 317.86,877.63 318.07,876.65 C318.27,875.67 318.47,874.69 318.66,873.70 C318.85,872.72 319.04,871.74 319.22,870.75 C319.40,869.77 319.58,868.78 319.75,867.80 C319.93,866.81 320.09,865.83 320.26,864.84 C320.42,863.85 320.58,862.86 320.73,861.87 C320.89,860.88 321.04,859.89 321.18,858.90 C321.33,857.91 321.47,856.92 321.61,855.93 C321.75,854.94 321.88,853.95 322.01,852.96 C322.14,851.96 322.27,850.97 322.39,849.98 C322.51,848.98 322.63,847.99 322.75,846.99 C322.86,846.00 322.97,845.01 323.08,844.01 C323.19,843.02 323.30,842.02 323.40,841.02 C323.51,840.03 323.61,839.03 323.70,838.04 C323.80,837.04 323.90,836.04 323.99,835.05 C324.08,834.05 324.17,833.05 324.26,832.06 C324.35,831.06 324.43,830.06 324.52,829.06 C324.60,828.07 324.68,827.07 324.76,826.07 C324.84,825.07 324.92,824.08 325.00,823.08 C325.07,822.08 325.15,821.08 325.22,820.08 C325.29,819.09 325.36,818.09 325.44,817.09 C325.51,816.09 325.58,815.09 325.64,814.09 C325.71,813.09 325.78,812.10 325.85,811.10 C325.91,810.10 325.98,809.10 326.04,808.10 C326.11,807.10 326.17,806.10 326.24,805.10 C326.30,804.10 326.37,803.11 326.43,802.11 C326.49,801.11 326.56,800.11 326.62,799.11 C326.68,798.11 326.75,797.11 326.81,796.11 C326.87,795.11 326.94,794.11 327.00,793.12 C327.07,792.12 327.13,791.12 327.20,790.12 C327.26,789.12 327.33,788.12 327.40,787.12 C327.46,786.12 327.53,785.13 327.60,784.13 C327.67,783.13 327.74,782.13 327.81,781.13 C327.88,780.13 327.96,779.13 328.03,778.14 C328.10,777.14 328.18,776.14 328.26,775.14 C328.34,774.14 328.41,773.15 328.49,772.15 C328.58,771.15 328.66,770.15 328.75,769.16 C328.83,768.16 328.92,767.16 329.01,766.16 C329.10,765.17 329.19,764.17 329.28,763.17 C329.38,762.18 329.48,761.18 329.58,760.19 C329.68,759.19 329.78,758.19 329.89,757.20 C329.99,756.20 330.10,755.21 330.21,754.21 C330.33,753.22 330.44,752.22 330.56,751.23 C330.68,750.24 330.80,749.24 330.93,748.25 C331.06,747.26 331.19,746.26 331.32,745.27 C331.45,744.28 331.59,743.29 331.73,742.30 C331.88,741.31 332.02,740.32 332.17,739.33 C332.32,738.34 332.49,737.35 332.63,736.36 C332.77,735.37 332.92,734.38 333.03,733.38 C333.15,732.39 333.24,731.39 333.33,730.40 C333.41,729.40 333.34,727.79 333.54,727.40 C333.74,727.01 334.25,727.44 334.51,728.04 C334.77,728.63 334.95,729.99 335.11,730.98 C335.28,731.96 335.40,732.96 335.50,733.95 C335.60,734.95 335.65,735.95 335.70,736.95 C335.75,737.95 335.78,738.95 335.82,739.95 C335.86,740.95 335.90,741.95 335.95,742.95 C335.99,743.95 336.04,744.95 336.09,745.95 C336.14,746.95 336.19,747.95 336.24,748.95 C336.29,749.95 336.35,750.95 336.40,751.95 C336.46,752.95 336.52,753.95 336.58,754.95 C336.63,755.95 336.70,756.94 336.76,757.94 C336.82,758.94 336.88,759.94 336.94,760.94 C337.01,761.94 337.07,762.94 337.14,763.94 C337.20,764.94 337.27,765.93 337.34,766.93 C337.40,767.93 337.47,768.93 337.54,769.93 C337.61,770.93 337.68,771.93 337.74,772.93 C337.81,773.92 337.88,774.92 337.95,775.92 C338.02,776.92 338.09,777.92 338.16,778.92 C338.22,779.92 338.29,780.91 338.36,781.91 C338.43,782.91 338.50,783.91 338.57,784.91 C338.63,785.91 338.70,786.91 338.77,787.91 C338.83,788.90 338.90,789.90 338.96,790.90 C339.03,791.90 339.09,792.90 339.16,793.90 C339.22,794.90 339.28,795.90 339.35,796.90 C339.41,797.90 339.47,798.89 339.53,799.89 C339.59,800.89 339.65,801.89 339.71,802.89 C339.77,803.89 339.83,804.89 339.89,805.89 C339.95,806.89 340.01,807.89 340.06,808.89 C340.12,809.89 340.18,810.89 340.24,811.88 C340.29,812.88 340.35,813.88 340.41,814.88 C340.46,815.88 340.52,816.88 340.57,817.88 C340.63,818.88 340.69,819.88 340.74,820.88 C340.80,821.88 340.85,822.88 340.91,823.88 C340.96,824.88 341.01,825.88 341.07,826.88 C341.12,827.88 341.18,828.88 341.23,829.87 C341.29,830.87 341.34,831.87 341.39,832.87 C341.45,833.87 341.50,834.87 341.56,835.87 C341.61,836.87 341.66,837.87 341.72,838.87 C341.77,839.87 341.83,840.87 341.88,841.87 C341.93,842.87 341.99,843.87 342.04,844.87 C342.10,845.87 342.15,846.87 342.21,847.87 C342.26,848.87 342.32,849.87 342.37,850.86 C342.43,851.86 342.48,852.86 342.54,853.86 C342.59,854.86 342.65,855.86 342.71,856.86 C342.76,857.86 342.82,858.86 342.88,859.86 C342.94,860.86 342.99,861.86 343.05,862.86 C343.11,863.86 343.17,864.86 343.23,865.85 C343.29,866.85 343.35,867.85 343.41,868.85 C343.47,869.85 343.53,870.85 343.59,871.85 C343.65,872.85 343.71,873.85 343.78,874.85 C343.84,875.85 343.90,876.85 343.97,877.84 C344.03,878.84 344.10,879.84 344.16,880.84 C344.23,881.84 344.29,882.84 344.36,883.84 C344.43,884.84 344.50,885.83 344.57,886.83 C344.64,887.83 344.71,888.83 344.78,889.83 C344.85,890.83 344.92,891.83 344.99,892.82 C345.06,893.82 345.14,894.82 345.21,895.82 C345.29,896.82 345.36,897.81 345.44,898.81 C345.52,899.81 345.60,900.81 345.67,901.81 C345.75,902.80 345.83,903.80 345.91,904.80 C346.00,905.80 346.08,906.80 346.16,907.79 C346.25,908.79 346.33,909.79 346.42,910.79 C346.50,911.78 346.59,912.78 346.68,913.78 C346.77,914.77 346.86,915.77 346.95,916.77 C347.04,917.76 347.14,918.76 347.23,919.76 C347.33,920.75 347.42,921.75 347.52,922.75 C347.62,923.74 347.72,924.74 347.82,925.73 C347.92,926.73 348.02,927.73 348.12,928.72 C348.23,929.72 348.33,930.71 348.44,931.71 C348.55,932.70 348.65,933.70 348.76,934.69 C348.87,935.69 348.99,936.68 349.10,937.68 C349.21,938.67 349.33,939.67 349.45,940.66 C349.56,941.65 349.68,942.65 349.80,943.64 C349.92,944.64 350.05,945.63 350.17,946.62 C350.30,947.62 350.42,948.61 350.55,949.60 C350.68,950.59 350.81,951.59 350.94,952.58 C351.08,953.57 351.21,954.56 351.35,955.55 C351.48,956.55 351.62,957.54 351.76,958.53 C351.90,959.52 352.05,960.51 352.19,961.50 C352.34,962.49 352.48,963.48 352.63,964.47 C352.78,965.46 352.94,966.45 353.09,967.44 C353.24,968.43 353.40,969.42 353.56,970.41 C353.72,971.39 353.88,972.38 354.04,973.37 C354.20,974.36 354.37,975.34 354.54,976.33 C354.71,977.32 354.88,978.30 355.05,979.29 C355.22,980.28 355.40,981.26 355.57,982.25 C355.75,983.23 355.93,984.22 356.12,985.20 C356.30,986.18 356.48,987.17 356.67,988.15 C356.86,989.13 357.05,990.12 357.25,991.10 C357.44,992.08 357.63,993.06 357.83,994.04 C358.03,995.02 358.23,996.01 358.44,996.99 C358.64,997.97 358.85,998.94 359.06,999.92 C359.27,1000.90 359.48,1001.88 359.70,1002.86 C359.91,1003.84 360.13,1004.81 360.35,1005.79 C360.57,1006.76 360.80,1007.74 361.02,1008.72 C361.25,1009.69 361.48,1010.66 361.72,1011.64 C361.95,1012.61 362.19,1013.58 362.44,1014.55 C362.69,1015.52 362.94,1016.49 363.20,1017.46 C363.47,1018.42 363.74,1019.39 364.02,1020.35 C364.29,1021.31 364.58,1022.27 364.88,1023.22 C365.18,1024.18 365.48,1025.13 365.80,1026.08 C366.12,1027.03 366.45,1027.97 366.79,1028.92 C367.14,1029.86 367.49,1030.79 367.86,1031.72 C368.23,1032.65 368.59,1033.58 369.00,1034.50 C369.40,1035.42 369.81,1036.33 370.27,1037.22 C370.73,1038.11 371.20,1039.00 371.77,1039.82 C372.33,1040.64 372.95,1041.45 373.65,1042.15 C374.36,1042.85 375.14,1043.52 375.98,1044.02 C376.83,1044.53 377.79,1044.90 378.74,1045.20 C379.68,1045.51 380.68,1045.71 381.66,1045.84 C382.65,1045.97 383.66,1045.99 384.66,1045.97 C385.66,1045.95 386.66,1045.86 387.65,1045.70 C388.63,1045.54 389.61,1045.30 390.57,1045.03 C391.53,1044.75 392.48,1044.42 393.41,1044.06 C394.34,1043.69 395.25,1043.27 396.15,1042.83 C397.05,1042.40 397.94,1041.93 398.81,1041.44 C399.69,1040.96 400.55,1040.44 401.40,1039.92 C402.26,1039.40 403.10,1038.86 403.94,1038.32 C404.79,1037.78 405.62,1037.23 406.46,1036.68 C407.30,1036.13 408.13,1035.58 408.97,1035.03 C409.81,1034.49 410.65,1033.94 411.49,1033.41 C412.34,1032.88 413.19,1032.35 414.06,1031.84 C414.92,1031.33 415.79,1030.84 416.66,1030.35 C417.54,1029.87 418.42,1029.40 419.31,1028.94 C420.20,1028.48 421.10,1028.04 422.01,1027.61 C422.91,1027.18 423.82,1026.76 424.73,1026.35 C425.65,1025.95 426.57,1025.56 427.50,1025.18 C428.42,1024.80 429.35,1024.43 430.29,1024.07 C431.22,1023.71 432.16,1023.37 433.11,1023.04 C434.05,1022.71 435.00,1022.39 435.95,1022.08 C436.90,1021.77 437.86,1021.47 438.82,1021.18 C439.78,1020.90 440.74,1020.62 441.71,1020.36 C442.67,1020.09 443.64,1019.84 444.61,1019.59 C445.58,1019.34 446.55,1019.11 447.53,1018.88 C448.50,1018.66 449.48,1018.44 450.46,1018.23 C451.44,1018.02 452.42,1017.82 453.40,1017.63 C454.38,1017.44 455.37,1017.26 456.35,1017.08 C457.34,1016.90 458.33,1016.74 459.31,1016.57 C460.30,1016.41 461.29,1016.26 462.28,1016.11 C463.27,1015.96 464.26,1015.82 465.25,1015.68 C466.24,1015.55 467.24,1015.42 468.23,1015.29 C469.22,1015.17 470.22,1015.05 471.21,1014.93 C472.21,1014.82 473.20,1014.71 474.20,1014.60 C475.19,1014.49 476.19,1014.39 477.18,1014.29 C478.18,1014.19 479.18,1014.10 480.17,1014.01 C481.17,1013.91 482.17,1013.82 483.16,1013.74 C484.16,1013.65 485.16,1013.56 486.15,1013.48 C487.15,1013.40 488.15,1013.32 489.15,1013.24 C490.15,1013.16 491.14,1013.08 492.14,1013.00 C493.14,1012.92 494.14,1012.84 495.14,1012.77 C496.13,1012.69 497.13,1012.61 498.13,1012.53 C499.13,1012.46 500.13,1012.38 501.12,1012.30 C502.12,1012.22 503.12,1012.15 504.12,1012.07 C505.12,1011.99 506.11,1011.91 507.11,1011.83 C508.11,1011.76 509.11,1011.68 510.10,1011.60 C511.10,1011.52 512.10,1011.44 513.10,1011.36 C514.10,1011.29 515.09,1011.21 516.09,1011.13 C517.09,1011.05 518.09,1010.97 519.09,1010.89 C520.08,1010.81 521.08,1010.74 522.08,1010.66 C523.08,1010.58 524.08,1010.50 525.07,1010.42 C526.07,1010.35 527.07,1010.27 528.07,1010.19 C529.07,1010.11 530.06,1010.03 531.06,1009.96 C532.06,1009.88 533.06,1009.80 534.06,1009.72 C535.05,1009.65 536.05,1009.57 537.05,1009.49 C538.05,1009.42 539.05,1009.34 540.04,1009.26 C541.04,1009.19 542.04,1009.11 543.04,1009.03 C544.04,1008.96 545.03,1008.88 546.03,1008.81 C547.03,1008.73 548.03,1008.66 549.03,1008.58 C550.02,1008.51 551.02,1008.43 552.02,1008.36 C553.02,1008.29 554.02,1008.21 555.02,1008.14 C556.01,1008.07 557.01,1007.99 558.01,1007.92 C559.01,1007.85 560.01,1007.78 561.01,1007.70 C562.00,1007.63 563.00,1007.56 564.00,1007.49 C565.00,1007.42 566.00,1007.35 567.00,1007.28 C568.00,1007.21 568.99,1007.14 569.99,1007.08 C570.99,1007.01 571.99,1006.94 572.99,1006.87 C573.99,1006.80 574.99,1006.74 575.99,1006.67 C576.98,1006.61 577.98,1006.54 578.98,1006.48 C579.98,1006.41 580.98,1006.35 581.98,1006.28 C582.98,1006.22 583.98,1006.16 584.98,1006.09 C585.98,1006.03 586.97,1005.97 587.97,1005.91 C588.97,1005.85 589.97,1005.79 590.97,1005.73 C591.97,1005.67 592.97,1005.61 593.97,1005.56 C594.97,1005.50 595.97,1005.44 596.97,1005.38 C597.97,1005.33 598.97,1005.27 599.97,1005.22 C600.96,1005.16 601.96,1005.11 602.96,1005.06 C603.96,1005.01 604.96,1004.95 605.96,1004.90 C606.96,1004.85 607.96,1004.80 608.96,1004.75 C609.96,1004.70 610.96,1004.66 611.96,1004.61 C612.96,1004.56 613.96,1004.52 614.96,1004.47 C615.96,1004.43 616.96,1004.38 617.96,1004.34 C618.96,1004.30 619.96,1004.25 620.96,1004.21 C621.96,1004.17 622.96,1004.13 623.96,1004.09 C624.96,1004.05 625.96,1004.02 626.96,1003.98 C627.96,1003.94 628.96,1003.91 629.96,1003.87 C630.96,1003.84 631.97,1003.80 632.97,1003.77 C633.97,1003.74 634.97,1003.71 635.97,1003.68 C636.97,1003.65 637.97,1003.62 638.97,1003.59 C639.97,1003.56 640.97,1003.54 641.97,1003.51 C642.97,1003.49 643.97,1003.46 644.97,1003.44 C645.97,1003.42 646.97,1003.40 647.98,1003.38 C648.98,1003.36 649.98,1003.34 650.98,1003.32 C651.98,1003.30 652.98,1003.29 653.98,1003.27 C654.98,1003.26 655.98,1003.24 656.98,1003.23 C657.98,1003.22 658.98,1003.21 659.99,1003.20 C660.99,1003.19 661.99,1003.18 662.99,1003.17 C663.99,1003.17 664.99,1003.16 665.99,1003.15 C666.99,1003.14 667.99,1003.13 668.99,1003.13 C670.00,1003.12 671.00,1003.11 672.00,1003.10 C673.00,1003.09 674.50,1003.08 675.00,1003.07" fill="none" stroke="#4472C4" stroke-width="7.5" stroke-linejoin="round" stroke-linecap="butt" clip-path="url(#plotclip)"/>
<path d="M115.00,682.99 C115.50,682.99 117.00,682.97 118.00,682.96 C119.00,682.95 120.00,682.94 121.00,682.93 C122.00,682.92 123.01,682.91 124.01,682.90 C125.01,682.89 126.01,682.88 127.01,682.86 C128.01,682.85 129.01,682.85 130.01,682.84 C131.01,682.83 132.01,682.82 133.01,682.82 C134.01,682.82 135.01,682.81 136.01,682.81 C137.01,682.81 138.01,682.81 139.02,682.81 C140.02,682.81 141.02,682.81 142.02,682.82 C143.02,682.82 144.02,682.82 145.02,682.83 C146.02,682.84 147.02,682.84 148.02,682.85 C149.02,682.86 150.02,682.87 151.02,682.88 C152.02,682.89 153.02,682.90 154.03,682.92 C155.03,682.93 156.03,682.94 157.03,682.96 C158.03,682.97 159.03,682.99 160.03,683.01 C161.03,683.02 162.03,683.04 163.03,683.06 C164.03,683.08 165.03,683.10 166.03,683.12 C167.03,683.14 168.03,683.17 169.03,683.19 C170.03,683.21 171.03,683.23 172.03,683.26 C173.04,683.28 174.04,683.31 175.04,683.34 C176.04,683.36 177.04,683.39 178.04,683.42 C179.04,683.44 180.04,683.47 181.04,683.50 C182.04,683.53 183.04,683.56 184.04,683.59 C185.04,683.62 186.04,683.65 187.04,683.69 C188.04,683.72 189.04,683.75 190.04,683.78 C191.04,683.82 192.04,683.85 193.04,683.89 C194.04,683.92 195.04,683.96 196.04,683.99 C197.04,684.03 198.04,684.06 199.04,684.10 C200.04,684.14 201.04,684.17 202.04,684.21 C203.04,684.25 204.04,684.29 205.04,684.32 C206.04,684.36 207.04,684.40 208.04,684.44 C209.04,684.48 210.04,684.52 211.04,684.56 C212.04,684.60 213.04,684.64 214.04,684.68 C215.04,684.72 216.04,684.76 217.04,684.80 C218.04,684.84 219.04,684.89 220.04,684.93 C221.04,684.97 222.04,685.01 223.04,685.05 C224.04,685.10 225.04,685.14 226.04,685.18 C227.04,685.22 228.04,685.26 229.04,685.31 C230.04,685.35 231.04,685.39 232.04,685.44 C233.04,685.48 234.04,685.52 235.04,685.56 C236.03,685.61 237.03,685.65 238.03,685.69 C239.03,685.74 240.03,685.78 241.03,685.82 C242.03,685.87 243.03,685.91 244.03,685.95 C245.03,685.99 246.03,686.04 247.03,686.08 C248.03,686.12 249.03,686.17 250.03,686.21 C251.03,686.25 252.03,686.29 253.03,686.34 C254.03,686.38 255.03,686.43 256.03,686.48 C257.03,686.53 258.03,686.59 259.03,686.65 C260.03,686.72 261.02,686.78 262.02,686.86 C263.02,686.94 264.02,687.03 265.01,687.13 C266.01,687.23 267.00,687.33 268.00,687.46 C268.99,687.58 269.98,687.72 270.97,687.87 C271.96,688.02 272.95,688.19 273.93,688.37 C274.91,688.55 275.89,688.76 276.87,688.98 C277.84,689.20 278.82,689.43 279.79,689.69 C280.75,689.94 281.71,690.23 282.67,690.52 C283.62,690.82 284.58,691.13 285.52,691.46 C286.46,691.79 287.40,692.15 288.33,692.52 C289.26,692.89 290.18,693.28 291.10,693.68 C292.01,694.09 292.91,694.52 293.81,694.97 C294.70,695.42 295.59,695.88 296.47,696.37 C297.34,696.85 298.20,697.36 299.05,697.89 C299.90,698.41 300.75,698.96 301.57,699.52 C302.39,700.09 303.20,700.69 303.99,701.30 C304.78,701.91 305.56,702.54 306.32,703.19 C307.07,703.85 307.80,704.54 308.51,705.24 C309.22,705.95 309.91,706.67 310.58,707.42 C311.24,708.17 311.87,708.95 312.47,709.75 C313.08,710.54 313.67,711.35 314.23,712.18 C314.79,713.01 315.31,713.86 315.82,714.73 C316.32,715.59 316.81,716.47 317.26,717.36 C317.72,718.25 318.14,719.16 318.55,720.07 C318.96,720.98 319.35,721.91 319.71,722.84 C320.07,723.77 320.41,724.71 320.73,725.66 C321.06,726.61 321.36,727.56 321.65,728.52 C321.94,729.48 322.20,730.44 322.46,731.41 C322.71,732.38 322.95,733.35 323.18,734.32 C323.40,735.30 323.61,736.28 323.81,737.26 C324.01,738.24 324.20,739.22 324.37,740.21 C324.55,741.19 324.72,742.18 324.87,743.17 C325.03,744.15 325.18,745.14 325.33,746.13 C325.47,747.12 325.61,748.12 325.74,749.11 C325.87,750.10 326.00,751.09 326.12,752.09 C326.24,753.08 326.36,754.07 326.47,755.07 C326.59,756.06 326.70,757.06 326.81,758.05 C326.93,759.04 327.03,760.04 327.14,761.03 C327.25,762.03 327.36,763.02 327.47,764.02 C327.57,765.01 327.68,766.01 327.78,767.00 C327.88,768.00 327.98,769.00 328.09,769.99 C328.19,770.99 328.28,771.98 328.38,772.98 C328.48,773.97 328.58,774.97 328.67,775.97 C328.77,776.96 328.86,777.96 328.95,778.95 C329.05,779.95 329.14,780.95 329.23,781.94 C329.32,782.94 329.41,783.94 329.50,784.93 C329.59,785.93 329.67,786.93 329.76,787.93 C329.84,788.92 329.93,789.92 330.01,790.92 C330.10,791.91 330.18,792.91 330.26,793.91 C330.34,794.91 330.42,795.90 330.50,796.90 C330.58,797.90 330.66,798.90 330.74,799.89 C330.81,800.89 330.89,801.89 330.97,802.89 C331.04,803.88 331.12,804.88 331.19,805.88 C331.26,806.88 331.34,807.88 331.41,808.87 C331.48,809.87 331.55,810.87 331.62,811.87 C331.69,812.87 331.76,813.87 331.83,814.86 C331.90,815.86 331.96,816.86 332.03,817.86 C332.10,818.86 332.16,819.86 332.23,820.85 C332.30,821.85 332.36,822.85 332.42,823.85 C332.49,824.85 332.55,825.85 332.61,826.85 C332.68,827.85 332.74,828.84 332.80,829.84 C332.86,830.84 332.92,831.84 332.98,832.84 C333.04,833.84 333.10,834.84 333.16,835.84 C333.22,836.84 333.28,837.83 333.34,838.83 C333.39,839.83 333.45,840.83 333.51,841.83 C333.56,842.83 333.62,843.83 333.68,844.83 C333.73,845.83 333.79,846.83 333.84,847.82 C333.90,848.82 333.95,849.82 334.01,850.82 C334.06,851.82 334.12,852.82 334.17,853.82 C334.22,854.82 334.28,855.82 334.33,856.82 C334.38,857.82 334.44,858.82 334.49,859.82 C334.54,860.82 334.60,861.81 334.65,862.81 C334.70,863.81 334.75,864.81 334.80,865.81 C334.86,866.81 334.91,867.81 334.96,868.81 C335.01,869.81 335.06,870.81 335.12,871.81 C335.17,872.81 335.22,873.81 335.27,874.81 C335.32,875.81 335.37,876.80 335.42,877.80 C335.48,878.80 335.53,879.80 335.58,880.80 C335.63,881.80 335.68,882.80 335.73,883.80 C335.78,884.80 335.84,885.80 335.89,886.80 C335.94,887.80 335.99,888.80 336.04,889.80 C336.10,890.80 336.15,891.79 336.20,892.79 C336.25,893.79 336.31,894.79 336.36,895.79 C336.41,896.79 336.47,897.79 336.52,898.79 C336.57,899.79 336.63,900.79 336.68,901.79 C336.73,902.79 336.79,903.79 336.84,904.79 C336.90,905.78 336.95,906.78 337.01,907.78 C337.06,908.78 337.12,909.78 337.18,910.78 C337.23,911.78 337.29,912.78 337.35,913.78 C337.40,914.78 337.46,915.78 337.52,916.77 C337.58,917.77 337.64,918.77 337.70,919.77 C337.76,920.77 337.82,921.77 337.88,922.77 C337.94,923.77 338.00,924.77 338.06,925.76 C338.12,926.76 338.19,927.76 338.25,928.76 C338.31,929.76 338.38,930.76 338.44,931.76 C338.51,932.76 338.57,933.75 338.64,934.75 C338.70,935.75 338.77,936.75 338.84,937.75 C338.91,938.75 338.97,939.74 339.04,940.74 C339.11,941.74 339.18,942.74 339.25,943.74 C339.33,944.74 339.40,945.73 339.47,946.73 C339.54,947.73 339.62,948.73 339.69,949.73 C339.77,950.72 339.84,951.72 339.92,952.72 C340.00,953.72 340.07,954.71 340.15,955.71 C340.23,956.71 340.31,957.71 340.39,958.70 C340.47,959.70 340.55,960.70 340.64,961.70 C340.72,962.69 340.80,963.69 340.89,964.69 C340.97,965.69 341.06,966.68 341.15,967.68 C341.23,968.68 341.32,969.67 341.41,970.67 C341.50,971.67 341.59,972.66 341.69,973.66 C341.78,974.66 341.87,975.65 341.97,976.65 C342.06,977.64 342.16,978.64 342.26,979.64 C342.35,980.63 342.45,981.63 342.56,982.62 C342.66,983.62 342.76,984.61 342.87,985.61 C342.98,986.60 343.09,987.60 343.21,988.59 C343.32,989.59 343.44,990.58 343.57,991.57 C343.69,992.56 343.82,993.56 343.96,994.55 C344.09,995.54 344.23,996.53 344.38,997.52 C344.53,998.51 344.68,999.50 344.84,1000.49 C345.00,1001.48 345.17,1002.46 345.34,1003.45 C345.51,1004.43 345.70,1005.42 345.89,1006.40 C346.08,1007.38 346.27,1008.36 346.48,1009.34 C346.69,1010.32 346.90,1011.30 347.12,1012.27 C347.35,1013.25 347.58,1014.22 347.82,1015.19 C348.07,1016.16 348.32,1017.13 348.58,1018.10 C348.84,1019.06 349.11,1020.03 349.40,1020.99 C349.68,1021.95 349.97,1022.91 350.29,1023.85 C350.62,1024.80 350.95,1025.74 351.35,1026.66 C351.74,1027.58 352.16,1028.50 352.66,1029.36 C353.16,1030.22 353.68,1031.11 354.34,1031.84 C355.00,1032.57 355.76,1033.39 356.62,1033.74 C357.48,1034.10 358.60,1034.19 359.49,1033.95 C360.38,1033.72 361.23,1032.96 361.97,1032.31 C362.71,1031.66 363.33,1030.84 363.92,1030.04 C364.51,1029.24 365.02,1028.37 365.50,1027.49 C365.98,1026.61 366.40,1025.70 366.79,1024.78 C367.17,1023.86 367.50,1022.91 367.80,1021.96 C368.10,1021.00 368.35,1020.03 368.59,1019.06 C368.83,1018.09 369.03,1017.11 369.23,1016.13 C369.43,1015.15 369.61,1014.16 369.80,1013.18 C369.98,1012.20 370.16,1011.21 370.34,1010.23 C370.52,1009.24 370.69,1008.26 370.86,1007.27 C371.04,1006.29 371.20,1005.30 371.37,1004.31 C371.54,1003.33 371.70,1002.34 371.86,1001.35 C372.02,1000.36 372.18,999.37 372.33,998.39 C372.49,997.40 372.64,996.41 372.79,995.42 C372.94,994.43 373.08,993.44 373.22,992.45 C373.37,991.46 373.51,990.47 373.65,989.48 C373.79,988.49 373.92,987.49 374.06,986.50 C374.19,985.51 374.32,984.52 374.45,983.53 C374.58,982.53 374.70,981.54 374.83,980.55 C374.95,979.55 375.07,978.56 375.19,977.57 C375.31,976.57 375.42,975.58 375.54,974.59 C375.65,973.59 375.76,972.60 375.87,971.60 C375.98,970.61 376.09,969.61 376.20,968.62 C376.30,967.62 376.41,966.63 376.51,965.63 C376.61,964.64 376.71,963.64 376.81,962.64 C376.91,961.65 377.00,960.65 377.10,959.66 C377.19,958.66 377.28,957.66 377.37,956.67 C377.46,955.67 377.55,954.67 377.64,953.68 C377.72,952.68 377.81,951.68 377.89,950.69 C377.97,949.69 378.06,948.69 378.14,947.69 C378.22,946.70 378.30,945.70 378.37,944.70 C378.45,943.70 378.52,942.71 378.60,941.71 C378.67,940.71 378.75,939.71 378.82,938.71 C378.89,937.72 378.96,936.72 379.03,935.72 C379.10,934.72 379.16,933.72 379.23,932.72 C379.30,931.72 379.36,930.73 379.43,929.73 C379.49,928.73 379.55,927.73 379.61,926.73 C379.68,925.73 379.74,924.73 379.80,923.73 C379.86,922.74 379.91,921.74 379.97,920.74 C380.03,919.74 380.09,918.74 380.14,917.74 C380.20,916.74 380.26,915.74 380.31,914.74 C380.36,913.74 380.42,912.74 380.47,911.75 C380.52,910.75 380.58,909.75 380.63,908.75 C380.68,907.75 380.73,906.75 380.78,905.75 C380.83,904.75 380.88,903.75 380.93,902.75 C380.98,901.75 381.03,900.75 381.08,899.75 C381.13,898.75 381.18,897.75 381.23,896.75 C381.28,895.75 381.32,894.76 381.37,893.76 C381.42,892.76 381.47,891.76 381.51,890.76 C381.56,889.76 381.61,888.76 381.66,887.76 C381.70,886.76 381.75,885.76 381.80,884.76 C381.85,883.76 381.89,882.76 381.94,881.76 C381.99,880.76 382.03,879.76 382.08,878.76 C382.13,877.76 382.18,876.76 382.22,875.76 C382.27,874.76 382.32,873.76 382.37,872.76 C382.42,871.77 382.47,870.77 382.51,869.77 C382.56,868.77 382.61,867.77 382.66,866.77 C382.71,865.77 382.76,864.77 382.81,863.77 C382.86,862.77 382.92,861.77 382.97,860.77 C383.02,859.77 383.07,858.77 383.13,857.77 C383.18,856.77 383.23,855.78 383.29,854.78 C383.34,853.78 383.40,852.78 383.45,851.78 C383.51,850.78 383.57,849.78 383.63,848.78 C383.68,847.78 383.74,846.78 383.80,845.78 C383.86,844.79 383.92,843.79 383.99,842.79 C384.05,841.79 384.11,840.79 384.17,839.79 C384.24,838.79 384.30,837.79 384.37,836.80 C384.44,835.80 384.50,834.80 384.57,833.80 C384.64,832.80 384.71,831.80 384.78,830.81 C384.86,829.81 384.93,828.81 385.00,827.81 C385.08,826.81 385.15,825.82 385.23,824.82 C385.31,823.82 385.38,822.82 385.46,821.83 C385.54,820.83 385.62,819.83 385.70,818.83 C385.79,817.84 385.87,816.84 385.95,815.84 C386.04,814.84 386.12,813.85 386.21,812.85 C386.29,811.85 386.38,810.86 386.47,809.86 C386.56,808.86 386.65,807.87 386.74,806.87 C386.83,805.87 386.92,804.88 387.01,803.88 C387.10,802.88 387.19,801.89 387.29,800.89 C387.38,799.89 387.48,798.90 387.57,797.90 C387.67,796.91 387.77,795.91 387.86,794.91 C387.96,793.92 388.06,792.92 388.16,791.93 C388.26,790.93 388.36,789.94 388.46,788.94 C388.56,787.94 388.66,786.95 388.77,785.95 C388.87,784.96 388.97,783.96 389.07,782.97 C389.18,781.97 389.28,780.98 389.39,779.98 C389.49,778.99 389.60,777.99 389.71,777.00 C389.81,776.00 389.92,775.01 390.03,774.01 C390.14,773.02 390.24,772.02 390.35,771.03 C390.46,770.03 390.57,769.04 390.68,768.04 C390.79,767.05 390.91,766.05 391.02,765.06 C391.14,764.07 391.25,763.07 391.37,762.08 C391.49,761.09 391.62,760.09 391.75,759.10 C391.87,758.11 392.00,757.12 392.14,756.12 C392.28,755.13 392.42,754.14 392.57,753.15 C392.71,752.16 392.87,751.17 393.03,750.19 C393.19,749.20 393.35,748.21 393.52,747.23 C393.70,746.24 393.88,745.26 394.07,744.27 C394.26,743.29 394.45,742.31 394.66,741.33 C394.87,740.35 395.09,739.37 395.31,738.40 C395.54,737.43 395.77,736.45 396.02,735.48 C396.27,734.51 396.53,733.55 396.80,732.58 C397.07,731.62 397.35,730.66 397.64,729.70 C397.93,728.75 398.24,727.79 398.56,726.84 C398.88,725.90 399.21,724.95 399.56,724.01 C399.91,723.07 400.27,722.14 400.64,721.21 C401.02,720.29 401.40,719.36 401.81,718.45 C402.21,717.53 402.63,716.62 403.07,715.72 C403.51,714.82 403.95,713.93 404.43,713.05 C404.91,712.17 405.41,711.30 405.93,710.45 C406.46,709.60 407.00,708.76 407.58,707.94 C408.17,707.13 408.78,706.34 409.43,705.58 C410.08,704.81 410.75,704.07 411.47,703.37 C412.18,702.68 412.94,702.02 413.73,701.41 C414.52,700.79 415.35,700.22 416.20,699.70 C417.05,699.18 417.94,698.72 418.84,698.28 C419.74,697.85 420.66,697.45 421.59,697.08 C422.52,696.70 423.46,696.37 424.41,696.03 C425.35,695.70 426.30,695.39 427.25,695.08 C428.20,694.77 429.16,694.47 430.11,694.17 C431.07,693.87 432.02,693.58 432.98,693.29 C433.94,693.00 434.90,692.72 435.86,692.44 C436.82,692.17 437.79,691.90 438.75,691.64 C439.72,691.38 440.69,691.13 441.66,690.88 C442.63,690.64 443.60,690.40 444.58,690.18 C445.55,689.96 446.53,689.74 447.51,689.55 C448.49,689.35 449.48,689.17 450.47,689.03 C451.46,688.88 452.46,688.77 453.45,688.68 C454.45,688.59 455.45,688.53 456.45,688.47 C457.44,688.41 458.44,688.38 459.44,688.32 C460.44,688.26 461.44,688.19 462.44,688.11 C463.44,688.04 464.43,687.95 465.43,687.88 C466.43,687.80 467.43,687.72 468.43,687.68 C469.43,687.64 470.43,687.63 471.43,687.64 C472.43,687.65 473.43,687.70 474.43,687.75 C475.43,687.80 476.43,687.86 477.42,687.93 C478.42,688.01 479.42,688.09 480.42,688.18 C481.41,688.27 482.41,688.36 483.40,688.48 C484.40,688.59 485.39,688.72 486.38,688.86 C487.37,689.00 488.36,689.18 489.35,689.33 C490.33,689.48 491.32,689.65 492.31,689.78 C493.30,689.92 494.30,690.05 495.29,690.13 C496.29,690.21 497.29,690.28 498.29,690.28 C499.29,690.28 500.29,690.23 501.29,690.14 C502.29,690.05 503.28,689.91 504.27,689.77 C505.26,689.62 506.24,689.44 507.23,689.27 C508.21,689.10 509.20,688.91 510.18,688.74 C511.17,688.57 512.16,688.40 513.14,688.24 C514.13,688.07 515.12,687.92 516.11,687.76 C517.10,687.61 518.09,687.47 519.08,687.33 C520.07,687.19 521.06,687.06 522.05,686.94 C523.05,686.81 524.04,686.69 525.03,686.57 C526.03,686.45 527.02,686.32 528.01,686.19 C529.00,686.06 530.00,685.93 530.99,685.80 C531.98,685.67 532.97,685.53 533.96,685.41 C534.96,685.28 535.95,685.14 536.94,685.05 C537.94,684.96 538.94,684.89 539.94,684.87 C540.94,684.86 541.94,684.94 542.94,684.97 C543.94,685.00 544.94,685.05 545.94,685.05 C546.94,685.05 547.94,685.01 548.94,684.97 C549.94,684.94 550.94,684.89 551.94,684.84 C552.94,684.80 553.94,684.75 554.94,684.71 C555.94,684.66 556.94,684.62 557.94,684.57 C558.94,684.53 559.94,684.48 560.94,684.43 C561.94,684.39 562.94,684.34 563.94,684.30 C564.94,684.25 565.94,684.21 566.94,684.16 C567.94,684.12 568.93,684.07 569.93,684.03 C570.93,683.99 571.93,683.95 572.94,683.93 C573.94,683.90 574.94,683.88 575.94,683.86 C576.94,683.85 577.94,683.84 578.94,683.82 C579.94,683.81 580.94,683.80 581.94,683.79 C582.94,683.77 583.94,683.76 584.94,683.75 C585.94,683.74 586.94,683.73 587.94,683.71 C588.94,683.70 589.95,683.69 590.95,683.68 C591.95,683.66 592.95,683.65 593.95,683.64 C594.95,683.63 595.95,683.61 596.95,683.60 C597.95,683.59 598.95,683.58 599.95,683.57 C600.95,683.55 601.95,683.54 602.95,683.53 C603.95,683.52 604.95,683.50 605.95,683.49 C606.96,683.48 607.96,683.47 608.96,683.46 C609.96,683.44 610.96,683.43 611.96,683.42 C612.96,683.41 613.96,683.39 614.96,683.38 C615.96,683.37 616.96,683.36 617.96,683.35 C618.96,683.33 619.96,683.32 620.96,683.31 C621.96,683.30 622.97,683.28 623.97,683.27 C624.97,683.26 625.97,683.25 626.97,683.23 C627.97,683.22 628.97,683.21 629.97,683.20 C630.97,683.19 631.97,683.17 632.97,683.16 C633.97,683.15 634.97,683.14 635.97,683.13 C636.97,683.12 637.97,683.11 638.98,683.10 C639.98,683.09 640.98,683.09 641.98,683.09 C642.98,683.08 643.98,683.08 644.98,683.07 C645.98,683.07 646.98,683.07 647.98,683.06 C648.98,683.06 649.98,683.05 650.98,683.05 C651.98,683.05 652.98,683.04 653.99,683.04 C654.99,683.03 655.99,683.03 656.99,683.03 C657.99,683.02 658.99,683.02 659.99,683.02 C660.99,683.01 661.99,683.01 662.99,683.01 C663.99,683.00 664.99,683.00 665.99,683.00 C666.99,683.00 668.00,682.99 669.00,682.99 C670.00,682.99 671.00,682.98 672.00,682.98 C673.00,682.98 674.50,682.97 675.00,682.97" fill="none" stroke="#ED7D31" stroke-width="7.5" stroke-linejoin="round" stroke-linecap="butt" clip-path="url(#plotclip)"/>
<text x="93.9" y="42.2" font-family="Liberation Serif" font-size="36" text-anchor="end" >2.6</text>
<text x="93.9" y="124.8" font-family="Liberation Serif" font-size="36" text-anchor="end" >2.4</text>
<text x="93.9" y="207.4" font-family="Liberation Serif" font-size="36" text-anchor="end" >2.2</text>
<text x="93.9" y="290.0" font-family="Liberation Serif" font-size="36" text-anchor="end" >2.0</text>
<text x="93.9" y="372.6" font-family="Liberation Serif" font-size="36" text-anchor="end" >1.8</text>
<text x="93.9" y="455.2" font-family="Liberation Serif" font-size="36" text-anchor="end" >1.6</text>
<text x="693.5" y="42.2" font-family="Liberation Serif" font-size="36" text-anchor="start" >90</text>
<text x="693.5" y="145.4" font-family="Liberation Serif" font-size="36" text-anchor="start" >85</text>
<text x="693.5" y="248.7" font-family="Liberation Serif" font-size="36" text-anchor="start" >80</text>
<text x="693.5" y="351.9" font-family="Liberation Serif" font-size="36" text-anchor="start" >75</text>
<text x="693.5" y="455.2" font-family="Liberation Serif" font-size="36" text-anchor="start" >70</text>
<text x="118.9" y="496.4" font-family="Liberation Serif" font-size="36" text-anchor="middle" >43.8</text>
<text x="298.9" y="496.4" font-family="Liberation Serif" font-size="36" text-anchor="middle" >44.0</text>
<text x="478.9" y="496.4" font-family="Liberation Serif" font-size="36" text-anchor="middle" >44.2</text>
<text x="658.9" y="496.4" font-family="Liberation Serif" font-size="36" text-anchor="middle" >44.4</text>
<text x="84.4" y="657.2" font-family="Liberation Serif" font-size="36" text-anchor="end" >5</text>
<text x="84.4" y="739.8" font-family="Liberation Serif" font-size="36" text-anchor="end" >4</text>
<text x="84.4" y="822.4" font-family="Liberation Serif" font-size="36" text-anchor="end" >3</text>
<text x="84.4" y="905.0" font-family="Liberation Serif" font-size="36" text-anchor="end" >2</text>
<text x="84.4" y="987.6" font-family="Liberation Serif" font-size="36" text-anchor="end" >1</text>
<text x="84.4" y="1070.2" font-family="Liberation Serif" font-size="36" text-anchor="end" >0</text>
<text x="693.5" y="657.2" font-family="Liberation Serif" font-size="36" text-anchor="start" >100</text>
<text x="693.5" y="708.8" font-family="Liberation Serif" font-size="36" text-anchor="start" >80</text>
<text x="693.5" y="760.5" font-family="Liberation Serif" font-size="36" text-anchor="start" >60</text>
<text x="693.5" y="812.1" font-family="Liberation Serif" font-size="36" text-anchor="start" >40</text>
<text x="693.5" y="863.7" font-family="Liberation Serif" font-size="36" text-anchor="start" >20</text>
<text x="693.5" y="915.3" font-family="Liberation Serif" font-size="36" text-anchor="start" >0</text>
<text x="693.5" y="967.0" font-family="Liberation Serif" font-size="36" text-anchor="start" >-20</text>
<text x="693.5" y="1018.6" font-family="Liberation Serif" font-size="36" text-anchor="start" >-40</text>
<text x="693.5" y="1070.2" font-family="Liberation Serif" font-size="36" text-anchor="start" >-60</text>
<text x="118.9" y="1111.8" font-family="Liberation Serif" font-size="36" text-anchor="middle" >47.7</text>
<text x="388.9" y="1111.8" font-family="Liberation Serif" font-size="36" text-anchor="middle" >47.8</text>
<text x="658.9" y="1111.8" font-family="Liberation Serif" font-size="36" text-anchor="middle" >47.9</text>
<text x="298.8" y="548.8" font-family="Liberation Serif" font-size="39.3" text-anchor="start" >Frequency [kHz]</text>
<text x="252.5" y="1164.0" font-family="Liberation Serif" font-size="39.3" text-anchor="start" >Frequency [kHz]</text>
<text transform="translate(33.4,364.1) rotate(-90)" font-family="Liberation Serif" font-size="39.3">Gain [mS]</text>
<text transform="translate(33.4,967.2) rotate(-90)" font-family="Liberation Serif" font-size="39.3">Gain [mS]</text>
<text transform="translate(788.0,329.1) rotate(-90)" font-family="Liberation Serif" font-size="39.3">Phase [deg]</text>
<text transform="translate(788.0,948.3) rotate(-90)" font-family="Liberation Serif" font-size="39.3">Phase [deg]</text>
<text x="527.0" y="142.8" font-family="Liberation Serif" font-size="37" textLength="98.41" lengthAdjust="spacingAndGlyphs" stroke="#000" stroke-width="0.2">Phase</text>
<text x="509.8" y="389.2" font-family="Liberation Serif" font-size="37" textLength="79.12" lengthAdjust="spacingAndGlyphs" stroke="#000" stroke-width="0.2">Gain</text>
<text x="500.0" y="727.6" font-family="Liberation Serif" font-size="37" textLength="98.41" lengthAdjust="spacingAndGlyphs" stroke="#000" stroke-width="0.2">Phase</text>
<text x="516.8" y="993.2" font-family="Liberation Serif" font-size="37" textLength="79.12" lengthAdjust="spacingAndGlyphs" stroke="#000" stroke-width="0.2">Gain</text>
<text x="-2.2" y="24.8" font-family="Liberation Sans" font-size="34" text-anchor="start" >(a)</text>
<text x="9.6" y="638.8" font-family="Liberation Sans" font-size="34" text-anchor="start" >(b)</text>
</svg>
</body></html>
